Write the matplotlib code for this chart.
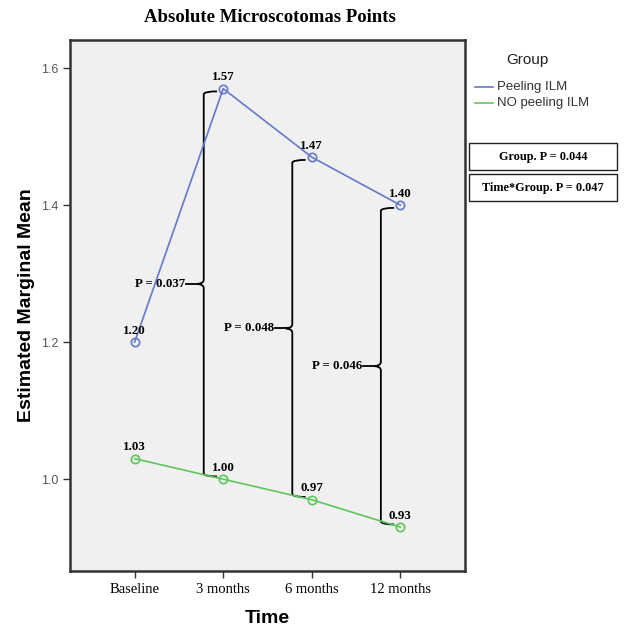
import matplotlib
matplotlib.use("Agg")
import matplotlib.pyplot as plt
from matplotlib.lines import Line2D
from matplotlib.patches import Rectangle, PathPatch
from matplotlib.path import Path

time_labels = ["Baseline", "3 months", "6 months", "12 months"]
peeling = [1.20, 1.57, 1.47, 1.40]
no_peeling = [1.03, 1.00, 0.97, 0.93]
series_names = ["Peeling ILM", "NO peeling ILM"]
pairwise_p = [None, "P = 0.037", "P = 0.048", "P = 0.046"]
effect_tests = ["Group. P = 0.044", "Time*Group. P = 0.047"]
y_ticks = [1.0, 1.2, 1.4, 1.6]

blue = "#6478cc"
green = "#5cc65c"
serif = "Liberation Serif"
sans = "Liberation Sans"

fig = plt.figure(figsize=(6.25, 6.31), dpi=100)
ax = fig.add_axes([70 / 625, 1 - 571 / 631, 395 / 625, 531 / 631])
ax.set_facecolor("#f0f0f0")

x = list(range(len(time_labels)))
for vals, col in ((peeling, blue), (no_peeling, green)):
    ax.plot(x, vals, color=col, lw=1.2, zorder=3)
    ax.plot(x, vals, ls="none", marker="o", ms=6, mfc="none", mec=col,
            mew=1.2, zorder=4)
    for xi, v in zip(x, vals):
        ax.annotate(f"{v:.2f}", (xi, v), xytext=(0, 4), textcoords="offset points",
                    ha="center", va="bottom", fontsize=9.3, fontweight="bold",
                    family=serif, zorder=5)


def brace(xc, y_hi, y_lo, label):
    """Curly bracket joining the two group means at one time point."""
    x0 = xc - 0.22
    ym = (y_hi + y_lo) / 2
    top = y_hi - 0.004
    bot = y_lo + 0.004
    verts = [
        (xc - 0.07, top), (x0 + 0.01, top), (x0, top - 0.004),
        (x0, ym + 0.006), (x0, ym + 0.001), (x0 - 0.07, ym),
        (x0, ym - 0.001), (x0, ym - 0.006),
        (x0, bot + 0.004), (x0 + 0.01, bot), (xc - 0.07, bot),
    ]
    codes = [Path.MOVETO, Path.CURVE3, Path.CURVE3, Path.LINETO,
             Path.CURVE3, Path.CURVE3, Path.CURVE3, Path.CURVE3,
             Path.LINETO, Path.CURVE3, Path.CURVE3]
    ax.add_patch(PathPatch(Path(verts, codes), fc="none", ec="black", lw=1.3, zorder=2))
    ax.plot([x0 - 0.2, x0 - 0.06], [ym, ym], color="black", lw=1.3, zorder=2)
    ax.text(x0 - 0.21, ym, label, ha="right", va="center", fontsize=9.3,
            fontweight="bold", family=serif, zorder=5)


for i in range(1, len(time_labels)):
    brace(x[i], peeling[i], no_peeling[i], pairwise_p[i])

ax.set_xlim(-0.73, 3.73)
ax.set_ylim(0.866, 1.641)
ax.set_xticks(x)
ax.set_xticklabels(time_labels, family=serif, fontsize=10.5)
ax.set_yticks(y_ticks)
ax.set_yticklabels([f"{t:.1f}" for t in y_ticks], family=sans, fontsize=9, color="#555555")
ax.tick_params(length=5, width=1, color="#333333")
for s in ax.spines.values():
    s.set_linewidth(1.8)
    s.set_color("#333333")

ax.set_xlabel("Time", family=sans, fontweight="bold", fontsize=14, labelpad=10)
ax.set_ylabel("Estimated Marginal Mean", family=sans, fontweight="bold", fontsize=14, labelpad=4)
fig.text(270 / 625, 1 - 18 / 631, "Absolute Microscotomas Points", ha="center", va="center",
         family=serif, fontweight="bold", fontsize=13.5)

# legend
fig.text(527 / 625, 1 - 60 / 631, "Group", ha="center", va="center", family=sans,
         fontsize=11, color="#222222")
for k, (name, col) in enumerate(zip(series_names, (blue, green))):
    yy = 1 - (87 + 16 * k) / 631
    fig.add_artist(Line2D([475 / 625, 493 / 625], [yy, yy], color=col, lw=1.2,
                          transform=fig.transFigure))
    fig.text(497 / 625, yy, name, ha="left", va="center", family=sans, fontsize=9.5,
             color="#333333")

# effect test boxes
for k, txt in enumerate(effect_tests):
    y_top = 143 + 31 * k
    fig.add_artist(Rectangle((469 / 625, 1 - (y_top + 27) / 631), 148 / 625, 27 / 631,
                             transform=fig.transFigure, fc="white", ec="#222222", lw=1.0))
    fig.text(543 / 625, 1 - (y_top + 13.5) / 631, txt, ha="center", va="center",
             family=serif, fontweight="bold", fontsize=8.8)

fig.savefig("out.png", dpi=100)
